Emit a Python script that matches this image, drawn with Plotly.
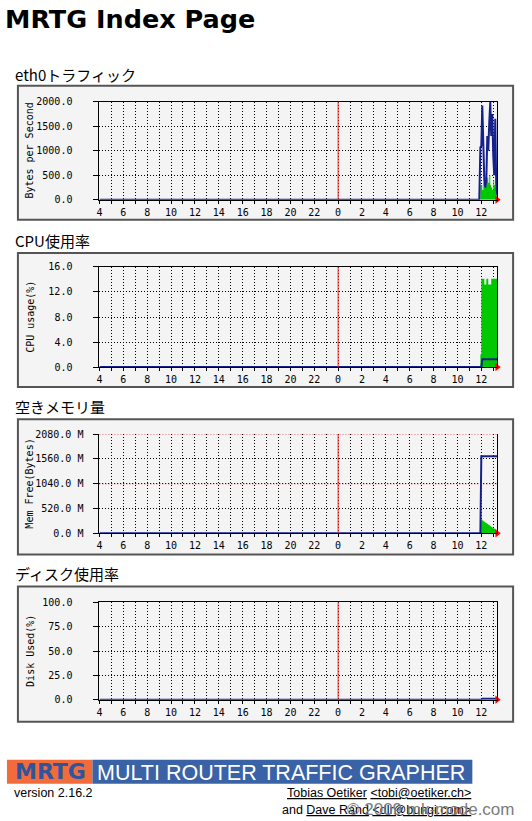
import plotly.graph_objects as go

W, H = 532, 821

PAGE_TITLE = "MRTG Index Page"
GRAPH_TITLES = ["eth0トラフィック", "CPU使用率", "空きメモリ量", "ディスク使用率"]
Y_TITLES = ["Bytes per Second", "CPU usage(%)", "Mem Free(Bytes)", "Disk Used(%)"]

# x axis: hours counted from 00:00 of the previous day (24 == midnight)
X_START = 4.0
X_END = 37.33
MIDNIGHT = 24
HOUR_TICKS = list(range(4, 38))

# five-minute samples at the right end of the daily graph
TIMES = [35.83, 35.92, 36.00, 36.08, 36.17, 36.25, 36.33, 36.42, 36.50, 36.58,
         36.67, 36.75, 36.83, 36.92, 37.00, 37.08, 37.17, 37.25, 37.33]

ETH0_IN = [0, 300, 300, 200, 350, 250, 300, 400, 450, 350,
           500, 300, 250, 200, 400, 300, 250, 100, 50]
ETH0_OUT = [0, 1070, 1100, 1920, 900, 400, 250, 400, 1300, 1000,
            1600, 1990, 1300, 1750, 900, 500, 1650, 300, 100]

CPU_IN = [0, 2.0, 14.1, 14.1, 14.1, 13.2, 13.2, 14.1, 14.1, 13.2,
          13.2, 13.2, 14.1, 14.1, 14.1, 14.1, 14.1, 14.1, 14.1]
CPU_OUT = [0, 0, 0, 1.25, 1.25, 1.25, 1.25, 1.25, 1.25, 1.25,
           1.25, 1.25, 1.25, 1.25, 1.25, 1.25, 1.25, 1.25, 1.25]

MEM_IN = [0, 280, 290, 270, 255, 240, 225, 210, 195, 180,
          165, 150, 135, 120, 105, 95, 85, 50, 20]
MEM_OUT = [0, 0, 1620, 1620, 1620, 1620, 1620, 1620, 1620, 1620,
           1620, 1620, 1620, 1620, 1620, 1620, 1620, 1620, 1620]

DISK_OUT = [0, 0, 0, 1.0, 1.0, 1.0, 1.0, 1.0, 1.0, 1.0,
            1.0, 1.0, 1.0, 1.0, 1.0, 1.0, 1.0, 1.0, 1.0]

Y_TICKS = [
    [0, 500, 1000, 1500, 2000],
    [0, 4, 8, 12, 16],
    [0, 520, 1040, 1560, 2080],
    [0, 25, 50, 75, 100],
]
Y_TICKTEXT = [
    ["0.0", "500.0", "1000.0", "1500.0", "2000.0"],
    ["0.0", "4.0", "8.0", "12.0", "16.0"],
    ["0.0 M", "520.0 M", "1040.0 M", "1560.0 M", "2080.0 M"],
    ["0.0", "25.0", "50.0", "75.0", "100.0"],
]
MEM_MARK_LINES = [1040, 2080]

SERIES = [
    (ETH0_IN, ETH0_OUT),
    (CPU_IN, CPU_OUT),
    (MEM_IN, MEM_OUT),
    (None, DISK_OUT),
]

# ---- styling / layout (pixels) ----
GREEN = "#00c800"
BLUE = "#14208c"
BOX_BG = "#f4f4f4"
MONO = "DejaVu Sans Mono"
JP = "Noto Sans CJK JP"

PLOT_X = (97, 497)
PLOTS_Y = [(101, 199), (266, 366), (433, 532), (601, 698)]
BOXES_Y = [(85, 219), (252, 386), (418, 553), (585, 720)]
TITLE_Y = [73.5, 239.5, 405.5, 572.5]
BOX_X = (15, 513)
FOOT = -2  # footer vertical nudge


def px(x):
    return x / W


def py(y):
    # vertical pixel -> paper fraction (compensated for the observed render offset)
    yy = (y - 4.5) / 0.985
    return 1 - yy / H


tick_text_x = [str(h % 24) if h % 2 == 0 else "" for h in HOUR_TICKS]

fig = go.Figure()
shapes = []
annotations = []

for i in range(4):
    n = i + 1
    xa = "x" if n == 1 else f"x{n}"
    ya = "y" if n == 1 else f"y{n}"
    ins, outs = SERIES[i]
    xs = [X_START] + TIMES
    if ins is not None:
        fig.add_trace(go.Scatter(
            x=xs, y=[0] + ins, mode="lines", xaxis=xa, yaxis=ya,
            line=dict(width=0, shape="hv"), fill="tozeroy", fillcolor=GREEN,
            showlegend=False, hoverinfo="skip"))
    fig.add_trace(go.Scatter(
        x=xs, y=[0] + outs, mode="lines", xaxis=xa, yaxis=ya,
        line=dict(width=2, color=BLUE), showlegend=False, hoverinfo="skip"))
    fig.add_trace(go.Scatter(
        x=[X_END], y=[0], mode="markers", xaxis=xa, yaxis=ya,
        marker=dict(symbol="triangle-right", size=7, color="#ff0000", line=dict(width=0)),
        cliponaxis=False, showlegend=False, hoverinfo="skip"))

    top, bot = PLOTS_Y[i]
    ymax = Y_TICKS[i][-1]
    is_mem = (i == 2)
    fig.layout[f"xaxis{'' if n == 1 else n}"] = dict(
        domain=[px(PLOT_X[0]), px(PLOT_X[1])], anchor=ya,
        range=[X_START, X_END], tickmode="array", tickvals=HOUR_TICKS,
        ticktext=tick_text_x, ticks="outside", ticklen=3, tickcolor="#000",
        tickwidth=1, showline=True, linecolor="#000", linewidth=1,
        mirror=not is_mem, showgrid=True, gridcolor="#000", gridwidth=1,
        griddash="1px,2px", zeroline=False, fixedrange=True,
        tickfont=dict(family=MONO, size=10, color="#000"), tickangle=0)
    fig.layout[f"yaxis{'' if n == 1 else n}"] = dict(
        domain=[py(bot), py(top)], anchor=xa, range=[0, ymax],
        tickmode="array", tickvals=Y_TICKS[i], ticktext=Y_TICKTEXT[i],
        ticks="outside", ticklen=5, tickcolor="#000", tickwidth=1,
        showline=True, linecolor="#000", linewidth=1, mirror=True,
        showgrid=True, gridcolor="#000", gridwidth=1, griddash="1px,2px",
        zeroline=False, fixedrange=True,
        ticklabelstandoff=8 if is_mem else 19,
        tickfont=dict(family=MONO, size=10, color="#000"))

    # graph frame
    b0, b1 = BOXES_Y[i]
    shapes.append(dict(type="rect", xref="paper", yref="paper", layer="below",
                       x0=px(BOX_X[0]), x1=px(BOX_X[1]), y0=py(b1), y1=py(b0),
                       fillcolor=BOX_BG, line=dict(color="#555555", width=2)))
    # midnight marker
    shapes.append(dict(type="line", xref=xa, yref=f"{ya} domain",
                       x0=MIDNIGHT, x1=MIDNIGHT, y0=0, y1=1,
                       line=dict(color="#ff2020", width=1)))
    if is_mem:
        for v in MEM_MARK_LINES:
            shapes.append(dict(type="line", xref=f"{xa} domain", yref=ya,
                               x0=0, x1=1, y0=v, y1=v,
                               line=dict(color="#e00000", width=1, dash="1px,2px")))

    annotations.append(dict(text=GRAPH_TITLES[i], xref="paper", yref="paper",
                            x=px(10), y=py(TITLE_Y[i]), xanchor="left", yanchor="middle",
                            showarrow=False, font=dict(family=JP, size=15, color="#000")))
    annotations.append(dict(text=Y_TITLES[i], xref="paper", yref="paper",
                            x=px(27), y=py((top + bot) / 2), xanchor="center",
                            yanchor="middle", textangle=-90, showarrow=False,
                            font=dict(family=MONO, size=10, color="#000")))

# page title
annotations.append(dict(text="<b>" + PAGE_TITLE + "</b>", xref="paper", yref="paper",
                        x=px(1), y=py(18), xanchor="left", yanchor="middle",
                        showarrow=False, borderpad=0,
                        font=dict(family="DejaVu Sans", size=25.5, color="#000")))

# footer banner
shapes.append(dict(type="rect", xref="paper", yref="paper", layer="below",
                   x0=px(4), x1=px(90), y0=py(784 + FOOT), y1=py(760 + FOOT),
                   fillcolor="#f26b3a", line=dict(width=0)))
shapes.append(dict(type="rect", xref="paper", yref="paper", layer="below",
                   x0=px(90), x1=px(472), y0=py(784 + FOOT), y1=py(760 + FOOT),
                   fillcolor="#3a62a6", line=dict(width=0)))
annotations.append(dict(text="<b>MRTG</b>", xref="paper", yref="paper",
                        x=px(48), y=py(772 + FOOT), xanchor="center", yanchor="middle",
                        showarrow=False, borderpad=0,
                        font=dict(family="DejaVu Sans", size=22, color="#2e559e")))
annotations.append(dict(text="MULTI ROUTER TRAFFIC GRAPHER", xref="paper", yref="paper",
                        x=px(93), y=py(773 + FOOT), xanchor="left", yanchor="middle",
                        showarrow=False, font=dict(family="Liberation Sans", size=21.5, color="#ffffff")))
annotations.append(dict(text="version 2.16.2", xref="paper", yref="paper",
                        x=px(10), y=py(793 + FOOT), xanchor="left", yanchor="middle",
                        showarrow=False, borderpad=0,
                        font=dict(family="Liberation Sans", size=12.5, color="#000")))
annotations.append(dict(text="<u>Tobias Oetiker</u> <u>&lt;tobi@oetiker.ch&gt;</u>",
                        xref="paper", yref="paper", x=px(472), y=py(793 + FOOT),
                        xanchor="right", yanchor="middle", showarrow=False, borderpad=0,
                        font=dict(family="Liberation Sans", size=12.5, color="#000")))
annotations.append(dict(text="and <u>Dave Rand</u> <u>&lt;dlr@bungi.com&gt;</u>",
                        xref="paper", yref="paper", x=px(280), y=py(810 + FOOT),
                        xanchor="left", yanchor="middle", showarrow=False, borderpad=0,
                        font=dict(family="Liberation Sans", size=12.5, color="#000")))
annotations.append(dict(text="© 2009 mk-mode.com", xref="paper", yref="paper",
                        x=px(345), y=py(810 + FOOT), xanchor="left", yanchor="middle",
                        showarrow=False, borderpad=0,
                        font=dict(family="Liberation Sans", size=17, color="#7c7c7c")))

fig.update_layout(width=W, height=H, autosize=False,
                  margin=dict(l=0, r=0, t=0, b=0, pad=0),
                  paper_bgcolor="#ffffff", plot_bgcolor="rgba(0,0,0,0)",
                  shapes=shapes, annotations=annotations, showlegend=False)

fig.write_html("out.html", config={"displayModeBar": False})
